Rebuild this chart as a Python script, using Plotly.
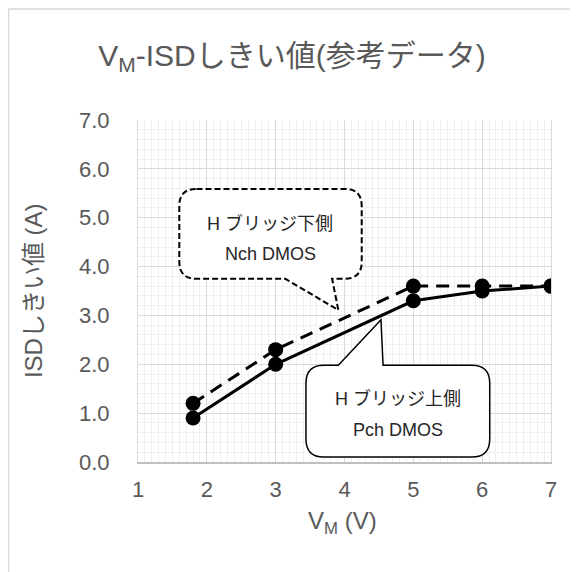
import plotly.graph_objects as go

# ---- data ----
vm_values = [1.8, 3, 5, 6, 7]
pch_isd = [0.9, 2.0, 3.3, 3.5, 3.6]   # H bridge upper side, Pch DMOS (solid)
nch_isd = [1.2, 2.3, 3.6, 3.6, 3.6]   # H bridge lower side, Nch DMOS (dashed)
x_ticks = [1, 2, 3, 4, 5, 6, 7]
y_ticks = [0, 1, 2, 3, 4, 5, 6, 7]

title_text = "V<sub>M</sub>-ISDしきい値(参考データ)"
x_title = "V<sub>M</sub> (V)"
y_title = "ISDしきい値 (A)"
nch_label = ["H ブリッジ下側", "Nch DMOS"]
pch_label = ["H ブリッジ上側", "Pch DMOS"]

FONT = "Liberation Sans, Arial, Noto Sans CJK JP, sans-serif"
GRAY = "#595959"

fig = go.Figure()
fig.add_trace(go.Scatter(
    x=vm_values, y=nch_isd, mode="lines+markers", name="Nch",
    line=dict(color="black", width=3, dash="13px,8px"),
    marker=dict(color="black", size=15), showlegend=False))
fig.add_trace(go.Scatter(
    x=vm_values, y=pch_isd, mode="lines+markers", name="Pch",
    line=dict(color="black", width=3),
    marker=dict(color="black", size=15), showlegend=False))


def callout(x0, x1, yb, yt, rx, ry, base_l, base_r, tip_x, tip_y, tail_bottom):
    p = []
    if tail_bottom:
        p.append(f"M{x0+rx},{yt} L{x1-rx},{yt} Q{x1},{yt} {x1},{yt-ry}")
        p.append(f"L{x1},{yb+ry} Q{x1},{yb} {x1-rx},{yb}")
        p.append(f"L{base_r},{yb} L{tip_x},{tip_y} L{base_l},{yb}")
        p.append(f"L{x0+rx},{yb} Q{x0},{yb} {x0},{yb+ry}")
        p.append(f"L{x0},{yt-ry} Q{x0},{yt} {x0+rx},{yt} Z")
    else:
        p.append(f"M{x0+rx},{yt} L{base_l},{yt} L{tip_x},{tip_y} L{base_r},{yt}")
        p.append(f"L{x1-rx},{yt} Q{x1},{yt} {x1},{yt-ry}")
        p.append(f"L{x1},{yb+ry} Q{x1},{yb} {x1-rx},{yb}")
        p.append(f"L{x0+rx},{yb} Q{x0},{yb} {x0},{yb+ry}")
        p.append(f"L{x0},{yt-ry} Q{x0},{yt} {x0+rx},{yt} Z")
    return " ".join(p)


shapes = [
    # dashed callout (Nch)
    dict(type="path", xref="x", yref="y", layer="above",
         path=callout(1.60, 4.25, 3.75, 5.59, 0.25, 0.35, 3.14, 3.82, 3.91, 3.11, True),
         fillcolor="white", line=dict(color="black", width=2, dash="6px,3px")),
    # solid callout (Pch)
    dict(type="path", xref="x", yref="y", layer="above",
         path=callout(3.44, 6.11, 0.10, 1.98, 0.26, 0.37, 3.91, 4.56, 4.53, 2.91, False),
         fillcolor="white", line=dict(color="black", width=1.5)),
    # chart frame (cropped)
    dict(type="line", xref="paper", yref="paper", x0=-0.3136, x1=1.2, y0=1.3246, y1=1.3246,
         line=dict(color="#d9d9d9", width=1.5)),
    dict(type="line", xref="paper", yref="paper", x0=-0.3136, x1=-0.3136, y0=1.3246, y1=-0.4,
         line=dict(color="#d9d9d9", width=1.5)),
]

CALL_FONT = dict(family=FONT, size=18, color="#262626")
annotations = [
    dict(x=2.92, y=4.89, xref="x", yref="y", text=nch_label[0], showarrow=False, font=CALL_FONT),
    dict(x=2.92, y=4.26, xref="x", yref="y", text=nch_label[1], showarrow=False, font=CALL_FONT),
    dict(x=4.78, y=1.31, xref="x", yref="y", text=pch_label[0], showarrow=False, font=CALL_FONT),
    dict(x=4.78, y=0.655, xref="x", yref="y", text=pch_label[1], showarrow=False, font=CALL_FONT),
    dict(x=0.496, y=-0.178, xref="paper", yref="paper", text=x_title, showarrow=False,
         font=dict(family=FONT, size=24, color=GRAY), xanchor="center", yanchor="middle"),
    dict(x=-0.254, y=0.5, xref="paper", yref="paper", text=y_title, showarrow=False,
         textangle=-90, font=dict(family=FONT, size=24, color=GRAY),
         xanchor="center", yanchor="middle"),
]

fig.update_layout(
    width=570, height=564,
    margin=dict(l=130, r=27, t=112, b=110, pad=0),
    paper_bgcolor="white", plot_bgcolor="white",
    font=dict(family=FONT, color=GRAY),
    title=dict(text=title_text, x=284/570, xref="container", xanchor="center",
               y=1-47/564, yref="container", yanchor="middle",
               font=dict(family=FONT, size=30, color=GRAY)),
    shapes=shapes, annotations=annotations,
    xaxis=dict(range=[1, 7], tickvals=x_ticks, ticktext=[str(v) for v in x_ticks],
               showgrid=True, gridcolor="#d9d9d9", gridwidth=1,
               minor=dict(dtick=0.1, tick0=1, showgrid=True, gridcolor="#efefef", gridwidth=1),
               showline=True, linecolor="#bfbfbf", linewidth=1.5,
               zeroline=False, ticks="", ticklabelstandoff=7,
               tickfont=dict(family=FONT, size=22, color=GRAY)),
    yaxis=dict(range=[0, 7], tickvals=y_ticks, ticktext=[f"{v:.1f}" for v in y_ticks],
               showgrid=True, gridcolor="#d9d9d9", gridwidth=1,
               minor=dict(dtick=0.2, tick0=0, showgrid=True, gridcolor="#efefef", gridwidth=1),
               showline=True, linecolor="#d9d9d9", linewidth=1, mirror=True,
               zeroline=False, ticks="", ticklabelstandoff=23,
               tickfont=dict(family=FONT, size=22, color=GRAY)),
)

fig.write_html("out.html")
